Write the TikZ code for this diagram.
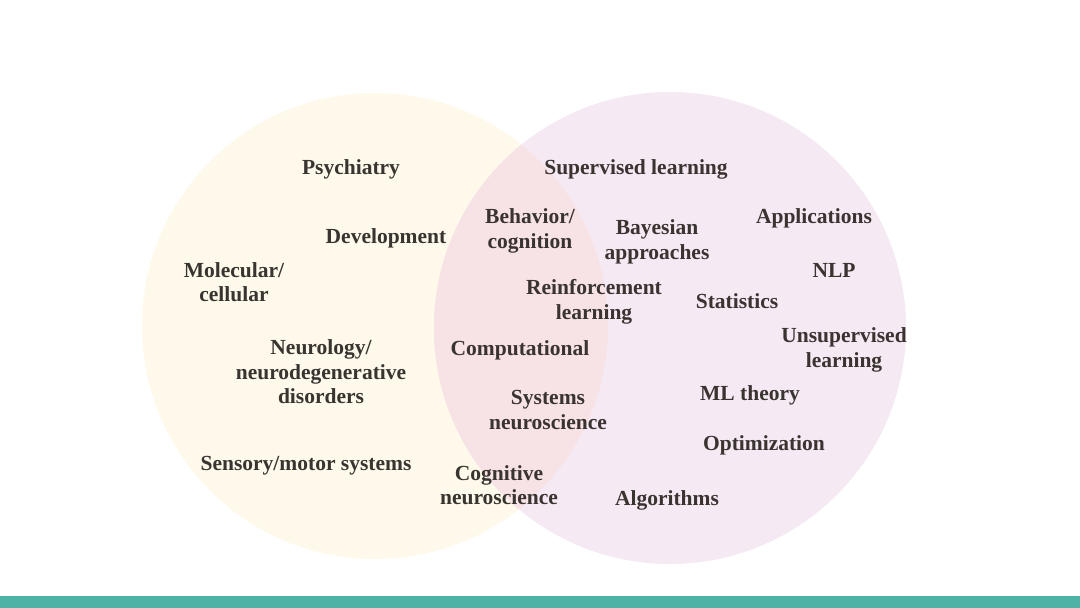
\documentclass[tikz,border=0pt]{standalone}
\usepackage{fontspec}
\setmainfont{Liberation Serif}
\usepackage{tikz}

\definecolor{yel}{HTML}{FEF9EA}
\definecolor{pur}{HTML}{F5E9F3}
\definecolor{mix}{HTML}{F7E3E5}
\definecolor{teal}{HTML}{4DB3A6}
\definecolor{ink}{HTML}{3A3431}

\begin{document}
\begin{tikzpicture}[x=1pt,y=-1pt]
\tikzset{t/.style={text=ink,font=\bfseries\fontsize{21.5}{24.5}\selectfont,align=center,inner sep=0pt}}

\useasboundingbox (0,0) rectangle (1080,608);
\fill[white] (0,0) rectangle (1080,608);
\fill[yel] (375,326) circle (233);
\fill[pur] (670,328) circle (236);
\begin{scope}
\clip (375,326) circle (233);
\fill[mix] (670,328) circle (236);
\end{scope}
\fill[teal] (0,596) rectangle (1080,608);

\node[t] (psy) at (351,169) {Psychiatry};
\node[t] (sup) at (636,169) {Supervised learning};
\node[t] (dev) at (386,238) {Development};
\node[t] (beh) at (530,231) {Behavior/\\cognition};
\node[t] (bay) at (657,242) {Bayesian\\approaches};
\node[t] (app) at (814,218) {Applications};
\node[t] (mol) at (234,282) {Molecular/\\cellular};
\node[t] (nlp) at (834,270) {NLP};
\node[t] (rl) at (594,302) {Reinforcement\\learning};
\node[t] (sta) at (737,301) {Statistics};
\node[t] (uns) at (844,350) {Unsupervised\\learning};
\node[t] (neu) at (321,372) {Neurology/\\neurodegenerative\\disorders};
\node[t] (com) at (520,350) {Computational};
\node[t] (sys) at (548,410) {Systems\\neuroscience};
\node[t] (mlt) at (750,395) {ML theory};
\node[t] (opt) at (764,445) {Optimization};
\node[t] (sen) at (306,466) {Sensory/motor systems};
\node[t] (cog) at (499,485) {Cognitive\\neuroscience};
\node[t] (alg) at (667,500) {Algorithms};
\end{tikzpicture}
\end{document}
